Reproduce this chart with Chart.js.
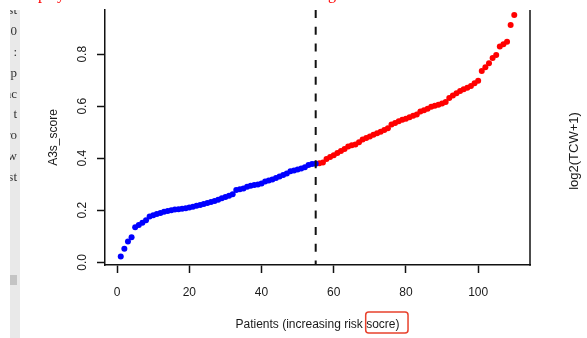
<!DOCTYPE html>
<html>
<head>
<meta charset="utf-8">
<script src="https://cdn.jsdelivr.net/npm/chart.js@4.4.1/dist/chart.umd.min.js"></script>
<style>
  html, body { margin: 0; padding: 0; background: #fff; }
  canvas { display: block; }
</style>
</head>
<body>
<canvas id="riskChart" width="587" height="338"></canvas>
<script>
/* DATA */

// A3s score per patient, sorted (patients 1..55 = low risk, 56..110 = high risk)
const lowRiskScores = [
  0.022, 0.052, 0.080, 0.096, 0.135, 0.143, 0.152, 0.162, 0.176, 0.181,
  0.186, 0.190, 0.194, 0.197, 0.200, 0.203, 0.204, 0.206, 0.208, 0.211,
  0.214, 0.217, 0.220, 0.224, 0.228, 0.232, 0.236, 0.240, 0.246, 0.251,
  0.256, 0.262, 0.278, 0.281, 0.284, 0.290, 0.294, 0.297, 0.299, 0.303,
  0.311, 0.314, 0.318, 0.324, 0.330, 0.336, 0.341, 0.350, 0.353, 0.357,
  0.361, 0.365, 0.374, 0.378, 0.379
];
const highRiskScores = [
  0.381, 0.384, 0.397, 0.405, 0.412, 0.420, 0.428, 0.436, 0.445, 0.450,
  0.453, 0.462, 0.472, 0.478, 0.484, 0.490, 0.496, 0.502, 0.509, 0.515,
  0.530, 0.536, 0.542, 0.548, 0.552, 0.558, 0.563, 0.568, 0.580, 0.585,
  0.590, 0.598, 0.602, 0.606, 0.611, 0.616, 0.632, 0.641, 0.650, 0.659,
  0.665, 0.671, 0.678, 0.688, 0.698, 0.735, 0.750, 0.765, 0.785, 0.797,
  0.830, 0.838, 0.848, 0.912, 0.951
];
const cutoffPatient = 55;            // dashed line position
const xTicks = [0, 20, 40, 60, 80, 100];
const yTicks = [0, 0.2, 0.4, 0.6, 0.8];
const xTitle = 'Patients (increasing risk socre)';
const yTitle = 'A3s_score';
const markedWord = 'socre)';          // word circled in red under the x axis

// left strip text fragments (cropped neighbour panel)
const stripFragments = ['st', '0', 'l :', 'p', 'nc', 't', 'ro', 'w', 'st'];

/* COLORES Y FUENTES */

const COLORS = {
  low:    '#0000ff',
  high:   '#ff0000',
  axis:   '#111111',
  text:   '#1a1a1a',
  mark:   '#e8412c',
  strip:  '#e9e9e9',
  stripDark: '#c4c4c4',
};
const SANS  = "'Liberation Sans', Arial, sans-serif";
const SERIF = "'Liberation Serif', 'DejaVu Serif', serif";

// build the {x, y} points from the score lists
const lowPoints  = lowRiskScores.map((v, i) => ({ x: i + 1, y: v }));
const highPoints = highRiskScores.map((v, i) => ({ x: lowRiskScores.length + i + 1, y: v }));

/* PLUGIN: caja, línea de corte, etiquetas rotadas y recortes */

const extras = {
  id: 'extras',
  beforeDraw(chart) {
    const { ctx } = chart;
    ctx.save();
    // gray strip of the neighbouring panel on the left
    ctx.fillStyle = COLORS.strip;
    ctx.fillRect(10, 10, 10, 328);
    ctx.fillStyle = COLORS.stripDark;
    ctx.fillRect(10, 275, 7, 10);
    ctx.beginPath();
    ctx.rect(10, 10, 10, 328);
    ctx.clip();
    ctx.fillStyle = '#333';
    ctx.font = '13px ' + SERIF;
    ctx.textAlign = 'right';
    ctx.textBaseline = 'middle';
    stripFragments.forEach((t, i) => ctx.fillText(t, 17, 11 + i * 20.8));
    ctx.restore();
  },
  afterDraw(chart) {
    const { ctx, chartArea: a } = chart;
    const xs = chart.scales.x, ys = chart.scales.y;
    ctx.save();

    // right side of the box
    ctx.strokeStyle = COLORS.axis;
    ctx.lineWidth = 1.5;
    ctx.beginPath();
    ctx.moveTo(a.right, a.top);
    ctx.lineTo(a.right, a.bottom + 0.75);
    ctx.stroke();

    // dashed cutoff line
    const cx = xs.getPixelForValue(cutoffPatient);
    ctx.setLineDash([8, 8.7]);
    ctx.lineWidth = 2;
    ctx.beginPath();
    ctx.moveTo(cx, a.top);
    ctx.lineTo(cx, a.bottom);
    ctx.stroke();
    ctx.setLineDash([]);

    // y tick labels, rotated like base R (las = 0)
    ctx.fillStyle = COLORS.text;
    ctx.font = '12px ' + SANS;
    ctx.textAlign = 'center';
    ctx.textBaseline = 'middle';
    ys.ticks.forEach(t => {
      ctx.save();
      ctx.translate(83, ys.getPixelForValue(t.value));
      ctx.rotate(-Math.PI / 2);
      ctx.fillText(t.value.toFixed(1), 0, 0);
      ctx.restore();
    });

    // red box around the misspelt word
    ctx.font = '12px ' + SANS;
    const full = ctx.measureText(xTitle).width;
    const pre = ctx.measureText(xTitle.slice(0, xTitle.length - markedWord.length)).width;
    const wordW = ctx.measureText(markedWord).width;
    const startX = (a.left + a.right) / 2 - full / 2;
    ctx.strokeStyle = COLORS.mark;
    ctx.lineWidth = 1.5;
    ctx.beginPath();
    ctx.roundRect(startX + pre - 0.5, 312, wordW + 9, 21, 3);
    ctx.stroke();

    // neighbour panel label on the right
    ctx.fillStyle = COLORS.text;
    ctx.font = '13px ' + SANS;
    ctx.save();
    ctx.translate(574, 151);
    ctx.rotate(-Math.PI / 2);
    ctx.fillText('log2(TCW+1)', 0, 0);
    ctx.restore();

    // cut-off red title above the figure
    ctx.fillStyle = '#ff0000';
    ctx.font = '16px ' + SERIF;
    ctx.textAlign = 'left';
    ctx.textBaseline = 'alphabetic';
    ctx.fillText('p', 38, -1);
    ctx.fillText('y', 57, -1);
    ctx.fillText('g', 328, -1);

    ctx.restore();
  },
};

/* GRÁFICO */

const ctx = document.getElementById('riskChart').getContext('2d');

new Chart(ctx, {
  type: 'scatter',
  data: {
    datasets: [
      {
        label: 'low',
        data: lowPoints,
        backgroundColor: COLORS.low,
        borderWidth: 0,
        pointRadius: 3,
      },
      {
        label: 'high',
        data: highPoints,
        backgroundColor: COLORS.high,
        borderWidth: 0,
        pointRadius: 3,
      },
    ],
  },
  options: {
    responsive: false,
    animation: false,
    layout: { padding: { top: 10, right: 57, left: 0, bottom: 0 } },
    plugins: {
      legend: { display: false },
      tooltip: { enabled: false },
    },
    scales: {
      x: {
        type: 'linear',
        position: 'bottom',
        min: -3.36,
        max: 114.36,
        afterBuildTicks: s => { s.ticks = xTicks.map(v => ({ value: v })); },
        afterFit: s => { s.height = 73; },
        ticks: {
          color: COLORS.text,
          font: { family: SANS, size: 12 },
          padding: 12,
          maxRotation: 0,
          autoSkip: false,
        },
        grid: {
          drawOnChartArea: false,
          drawTicks: true,
          tickLength: 8,
          tickWidth: 1.5,
          tickColor: COLORS.axis,
        },
        border: { display: true, color: COLORS.axis, width: 1.5 },
        title: {
          display: true,
          text: xTitle,
          color: COLORS.text,
          font: { family: SANS, size: 12 },
          padding: { top: 0, bottom: 6 },
        },
      },
      y: {
        type: 'linear',
        min: -0.0104,
        max: 0.970,
        afterBuildTicks: s => { s.ticks = yTicks.map(v => ({ value: v })); },
        afterFit: s => { s.width = 105; },
        ticks: { display: false },
        grid: {
          drawOnChartArea: false,
          drawTicks: true,
          tickLength: 8,
          tickWidth: 1.5,
          tickColor: COLORS.axis,
        },
        border: { display: true, color: COLORS.axis, width: 1.5 },
        title: {
          display: true,
          text: yTitle,
          color: COLORS.text,
          font: { family: SANS, size: 12 },
          padding: { top: 46, bottom: 0 },
        },
      },
    },
  },
  plugins: [extras],
});
</script>
</body>
</html>
